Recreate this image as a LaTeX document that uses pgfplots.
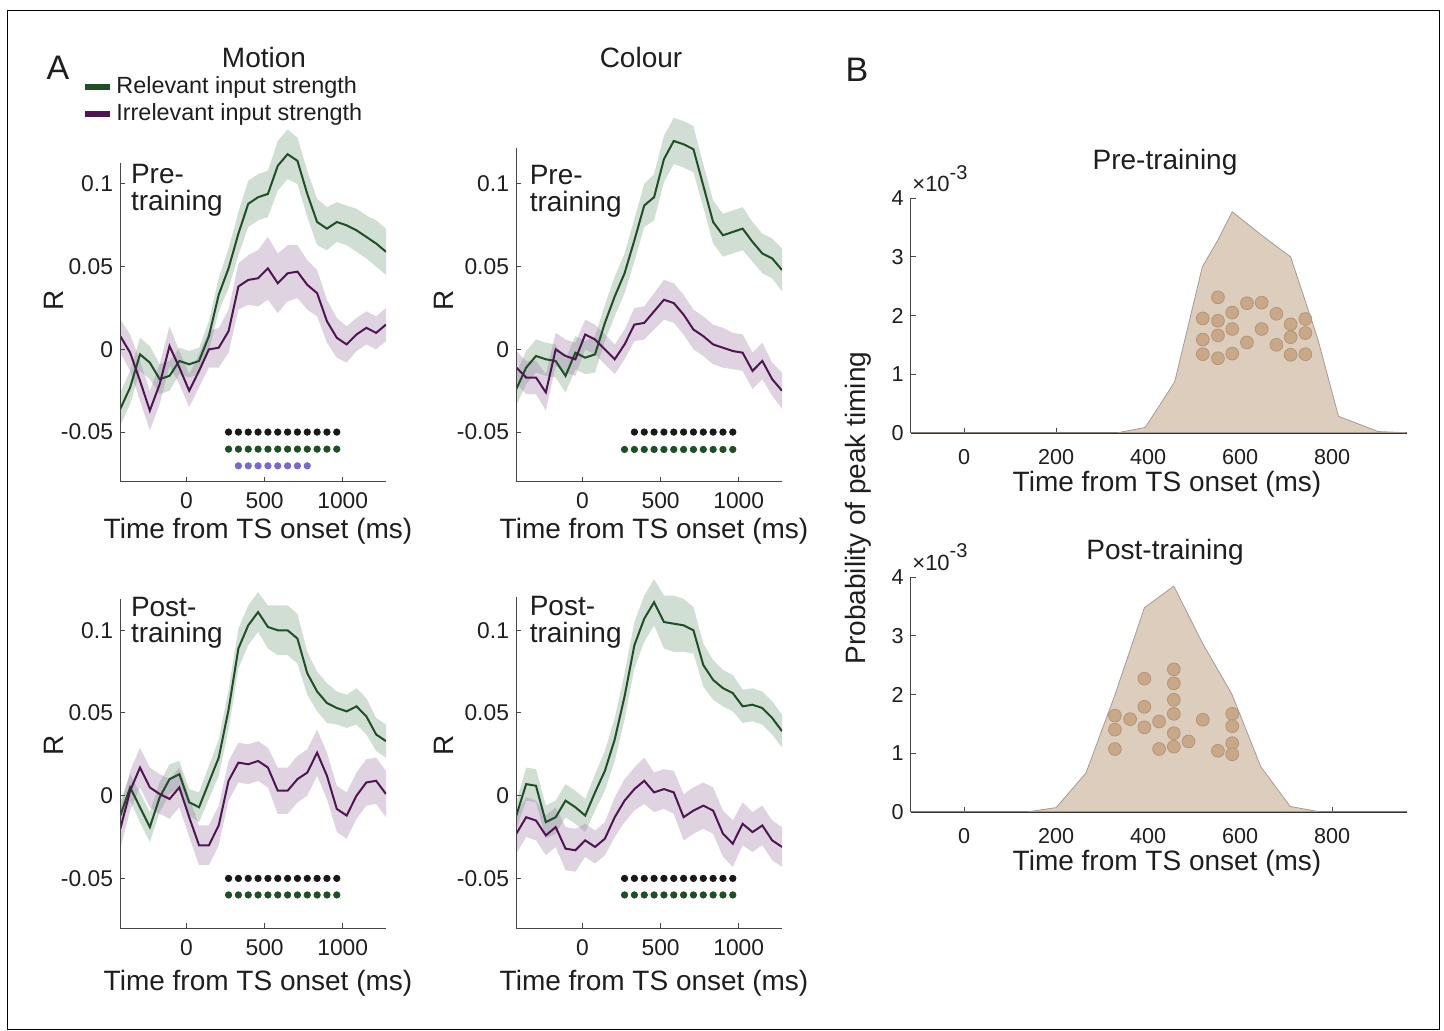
\documentclass[border=0pt]{standalone}
\usepackage{fontspec}
\setmainfont{Liberation Sans}
\usepackage{pgfplots}
\usepackage{pgfplotstable}
\pgfplotsset{compat=1.18}

\definecolor{gline}{RGB}{32,78,38}
\definecolor{pline}{RGB}{78,22,80}
\definecolor{gbase}{RGB}{120,160,130}
\definecolor{pbase}{RGB}{150,110,160}
\definecolor{dblack}{RGB}{25,25,25}
\definecolor{dpurp}{RGB}{122,106,200}
\definecolor{axgray}{RGB}{70,70,70}
\definecolor{txt}{RGB}{30,30,30}
\definecolor{densfill}{RGB}{221,205,189}
\definecolor{densedge}{RGB}{165,155,148}
\definecolor{dotfill}{RGB}{200,168,134}
\definecolor{dotedge}{RGB}{178,150,124}

% t = time (ms), g/ge = relevant mean/sem, p/pe = irrelevant mean/sem
\pgfplotstableread{
t g ge p pe
-424 -0.036 0.010 0.008 0.010
-361 -0.023 0.010 -0.002 0.011
-298 -0.003 0.010 -0.019 0.012
-235 -0.008 0.010 -0.037 0.012
-172 -0.018 0.009 -0.021 0.012
-109 -0.016 0.009 0.002 0.012
-46 -0.007 0.008 -0.011 0.010
17 -0.009 0.008 -0.025 0.010
80 -0.007 0.008 -0.013 0.010
143 0.008 0.009 0.000 0.011
206 0.033 0.010 0.001 0.012
269 0.049 0.012 0.011 0.013
332 0.070 0.013 0.038 0.014
395 0.088 0.014 0.042 0.015
458 0.092 0.014 0.043 0.017
521 0.094 0.014 0.049 0.019
584 0.111 0.015 0.040 0.018
647 0.118 0.015 0.046 0.017
710 0.114 0.014 0.047 0.016
773 0.094 0.014 0.039 0.015
836 0.077 0.014 0.034 0.014
899 0.073 0.013 0.017 0.013
962 0.077 0.012 0.007 0.012
1025 0.075 0.012 0.003 0.011
1088 0.072 0.013 0.009 0.010
1151 0.068 0.013 0.013 0.010
1214 0.064 0.014 0.010 0.010
1277 0.059 0.014 0.015 0.010
}\motionpre

\pgfplotstableread{
t g ge p pe
-424 -0.024 0.010 -0.011 0.010
-361 -0.011 0.010 -0.017 0.010
-298 -0.004 0.010 -0.017 0.010
-235 -0.006 0.010 -0.026 0.011
-172 -0.007 0.010 0.000 0.010
-109 -0.016 0.010 -0.004 0.010
-46 -0.002 0.010 -0.006 0.010
17 -0.005 0.010 0.009 0.009
80 -0.003 0.011 0.006 0.009
143 0.016 0.011 0.000 0.009
206 0.032 0.012 -0.006 0.009
269 0.046 0.012 0.003 0.009
332 0.066 0.013 0.015 0.010
395 0.087 0.013 0.016 0.010
458 0.092 0.014 0.023 0.011
521 0.115 0.014 0.030 0.012
584 0.126 0.014 0.028 0.012
647 0.124 0.014 0.021 0.012
710 0.121 0.014 0.012 0.012
773 0.099 0.013 0.008 0.012
836 0.077 0.013 0.003 0.012
899 0.069 0.013 0.001 0.012
962 0.071 0.013 -0.001 0.011
1025 0.073 0.013 -0.002 0.011
1088 0.065 0.012 -0.013 0.011
1151 0.058 0.012 -0.007 0.011
1214 0.055 0.012 -0.018 0.010
1277 0.048 0.013 -0.025 0.011
}\colourpre

\pgfplotstableread{
t g ge p pe
-424 -0.012 0.008 -0.020 0.012
-361 0.005 0.008 0.003 0.012
-298 -0.007 0.009 0.017 0.012
-235 -0.019 0.009 0.005 0.012
-172 -0.001 0.009 0.001 0.012
-109 0.010 0.009 -0.002 0.012
-46 0.013 0.008 0.005 0.012
17 -0.004 0.008 -0.013 0.012
80 -0.007 0.009 -0.030 0.012
143 0.008 0.010 -0.030 0.012
206 0.023 0.011 -0.018 0.012
269 0.052 0.012 0.009 0.012
332 0.089 0.012 0.020 0.012
395 0.103 0.012 0.019 0.012
458 0.111 0.012 0.021 0.012
521 0.102 0.013 0.017 0.012
584 0.100 0.015 0.003 0.014
647 0.100 0.015 0.003 0.014
710 0.095 0.015 0.010 0.014
773 0.074 0.013 0.014 0.014
836 0.063 0.012 0.026 0.014
899 0.056 0.012 0.012 0.014
962 0.053 0.010 -0.008 0.014
1025 0.051 0.010 -0.012 0.014
1088 0.054 0.011 0.000 0.014
1151 0.048 0.011 0.008 0.014
1214 0.037 0.010 0.009 0.014
1277 0.033 0.010 0.001 0.014
}\motionpost

\pgfplotstableread{
t g ge p pe
-424 -0.012 0.008 -0.023 0.012
-361 0.007 0.010 -0.013 0.012
-298 0.006 0.010 -0.015 0.012
-235 -0.016 0.010 -0.024 0.012
-172 -0.013 0.010 -0.019 0.012
-109 -0.003 0.010 -0.032 0.013
-46 -0.007 0.010 -0.033 0.013
17 -0.012 0.010 -0.027 0.010
80 0.002 0.011 -0.031 0.010
143 0.015 0.012 -0.026 0.010
206 0.034 0.013 -0.013 0.012
269 0.060 0.014 -0.003 0.013
332 0.091 0.014 0.004 0.013
395 0.107 0.014 0.009 0.014
458 0.117 0.014 0.002 0.012
521 0.105 0.016 0.004 0.012
584 0.104 0.017 0.002 0.013
647 0.103 0.016 -0.013 0.014
710 0.100 0.014 -0.009 0.014
773 0.079 0.013 -0.006 0.014
836 0.070 0.012 -0.009 0.014
899 0.065 0.011 -0.023 0.014
962 0.062 0.011 -0.029 0.014
1025 0.054 0.010 -0.017 0.013
1088 0.055 0.010 -0.022 0.012
1151 0.053 0.010 -0.018 0.012
1214 0.047 0.010 -0.027 0.012
1277 0.039 0.010 -0.031 0.012
}\colourpost

\pgfplotsset{
  leftgeom/.style={
    scale only axis, width=133pt, height=181.95pt, anchor=south west,
    xmin=-426, xmax=1277, ymin=-0.08, ymax=0.14,
  },
  bandaxis/.style={leftgeom, hide axis, stack plots=y},
  leftpanel/.style={
    leftgeom,
    axis x line*=bottom, axis y line*=left,
    x axis line style={draw=axgray, line width=0.5pt},
    y axis line style={draw=none},
    tick align=inside, major tick length=2.5pt,
    tick style={draw=axgray, line width=0.5pt},
    xtick={0,500,1000}, ytick={-0.05,0,0.05,0.1},
    yticklabels={-0.05,0,0.05,0.1},
    ticklabel style={font=\fontsize{11.4}{13}\selectfont, text=txt},
    xticklabel style={yshift=-2pt},
    /pgf/number format/assume math mode=true,
    /pgf/number format/1000 sep={},
  },
  rightpanel/.style={
    scale only axis, width=248.15pt, height=117.2pt, anchor=south west,
    xmin=-116, xmax=963, ymin=0, ymax=4,
    axis x line*=bottom, axis y line*=left,
    x axis line style={draw=black!80, line width=1.1pt},
    y axis line style={draw=axgray, line width=0.5pt},
    tick align=inside, major tick length=2.5pt,
    tick style={draw=axgray, line width=0.5pt},
    xtick={0,200,400,600,800}, ytick={0,1,2,3,4},
    ticklabel style={font=\fontsize{10.8}{12}\selectfont, text=txt},
    xticklabel style={yshift=-5pt},
    /pgf/number format/assume math mode=true,
  },
}

% shaded band mean +- sem, built as two stacked plots
% #1 position, #2 table, #3 mean column, #4 sem column, #5 colour, #6 opacity
\newcommand{\band}[6]{%
  \begin{axis}[bandaxis, at={#1}]
    \addplot[draw=none] table[x=t, y expr=\thisrow{#3}-\thisrow{#4}] {#2};
    \addplot[fill=#5, fill opacity=#6, draw=none] table[x=t, y expr=2*\thisrow{#4}] {#2} \closedcycle;
  \end{axis}}

\newcommand{\means}[1]{%
  \addplot[gline, line width=1pt] table[x=t, y=g] {#1};
  \addplot[pline, line width=1pt] table[x=t, y=p] {#1};
}

\begin{document}
\begin{tikzpicture}
\useasboundingbox (0,0) rectangle (722pt,-515pt);
\draw[black, line width=0.5pt] (3.5pt,-5pt) rectangle (719.5pt,-514.6pt);

% ---- A: Motion, pre-training
\band{(60pt,-240.85pt)}{\motionpre}{g}{ge}{gbase}{0.35}
\band{(60pt,-240.85pt)}{\motionpre}{p}{pe}{pbase}{0.30}
\begin{axis}[leftpanel, at={(60pt,-240.85pt)}]
  \means{\motionpre}
  \addplot[only marks, mark=*, mark size=1.6pt, dblack] coordinates {(269,-0.05)(332,-0.05)(395,-0.05)(458,-0.05)(521,-0.05)(584,-0.05)(647,-0.05)(710,-0.05)(773,-0.05)(836,-0.05)(899,-0.05)(962,-0.05)};
  \addplot[only marks, mark=*, mark size=1.6pt, gline] coordinates {(269,-0.0603)(332,-0.0603)(395,-0.0603)(458,-0.0603)(521,-0.0603)(584,-0.0603)(647,-0.0603)(710,-0.0603)(773,-0.0603)(836,-0.0603)(899,-0.0603)(962,-0.0603)};
  \addplot[only marks, mark=*, mark size=1.6pt, dpurp] coordinates {(332,-0.0704)(395,-0.0704)(458,-0.0704)(521,-0.0704)(584,-0.0704)(647,-0.0704)(710,-0.0704)(773,-0.0704)};
\end{axis}
\draw[axgray, line width=0.5pt] (60pt,-240.85pt) -- ++(0,159.6pt);

% ---- A: Colour, pre-training
\band{(258pt,-240.85pt)}{\colourpre}{g}{ge}{gbase}{0.35}
\band{(258pt,-240.85pt)}{\colourpre}{p}{pe}{pbase}{0.30}
\begin{axis}[leftpanel, at={(258pt,-240.85pt)}]
  \means{\colourpre}
  \addplot[only marks, mark=*, mark size=1.6pt, dblack] coordinates {(332,-0.05)(395,-0.05)(458,-0.05)(521,-0.05)(584,-0.05)(647,-0.05)(710,-0.05)(773,-0.05)(836,-0.05)(899,-0.05)(962,-0.05)};
  \addplot[only marks, mark=*, mark size=1.6pt, gline] coordinates {(269,-0.0605)(332,-0.0605)(395,-0.0605)(458,-0.0605)(521,-0.0605)(584,-0.0605)(647,-0.0605)(710,-0.0605)(773,-0.0605)(836,-0.0605)(899,-0.0605)(962,-0.0605)};
\end{axis}
\draw[axgray, line width=0.5pt] (258pt,-240.85pt) -- ++(0,166.7pt);

% ---- A: Motion, post-training
\band{(60pt,-464pt)}{\motionpost}{g}{ge}{gbase}{0.35}
\band{(60pt,-464pt)}{\motionpost}{p}{pe}{pbase}{0.30}
\begin{axis}[leftpanel, at={(60pt,-464pt)}]
  \means{\motionpost}
  \addplot[only marks, mark=*, mark size=1.6pt, dblack] coordinates {(269,-0.05)(332,-0.05)(395,-0.05)(458,-0.05)(521,-0.05)(584,-0.05)(647,-0.05)(710,-0.05)(773,-0.05)(836,-0.05)(899,-0.05)(962,-0.05)};
  \addplot[only marks, mark=*, mark size=1.6pt, gline] coordinates {(269,-0.06)(332,-0.06)(395,-0.06)(458,-0.06)(521,-0.06)(584,-0.06)(647,-0.06)(710,-0.06)(773,-0.06)(836,-0.06)(899,-0.06)(962,-0.06)};
\end{axis}
\draw[axgray, line width=0.5pt] (60pt,-464pt) -- ++(0,164.3pt);

% ---- A: Colour, post-training
\band{(258pt,-464pt)}{\colourpost}{g}{ge}{gbase}{0.35}
\band{(258pt,-464pt)}{\colourpost}{p}{pe}{pbase}{0.30}
\begin{axis}[leftpanel, at={(258pt,-464pt)}]
  \means{\colourpost}
  \addplot[only marks, mark=*, mark size=1.6pt, dblack] coordinates {(269,-0.05)(332,-0.05)(395,-0.05)(458,-0.05)(521,-0.05)(584,-0.05)(647,-0.05)(710,-0.05)(773,-0.05)(836,-0.05)(899,-0.05)(962,-0.05)};
  \addplot[only marks, mark=*, mark size=1.6pt, gline] coordinates {(269,-0.06)(332,-0.06)(395,-0.06)(458,-0.06)(521,-0.06)(584,-0.06)(647,-0.06)(710,-0.06)(773,-0.06)(836,-0.06)(899,-0.06)(962,-0.06)};
\end{axis}
\draw[axgray, line width=0.5pt] (258pt,-464pt) -- ++(0,165.4pt);

% ---- B: pre-training peak timing
\begin{axis}[rightpanel, at={(455.35pt,-216.35pt)}]
  \addplot[fill=densfill, draw=densedge, line width=0.4pt] coordinates {(-116,0)(334,0)(394,0.09)(458,0.87)(518,2.83)(552,3.29)(583,3.77)(647,3.37)(710,3.0)(769,1.6)(814,0.28)(900,0.02)(963,0)} \closedcycle;
  \addplot[only marks, mark=*, mark size=3.2pt, draw=dotedge, fill=dotfill] coordinates {
    (519,1.95)(519,1.59)(519,1.34)
    (552,2.31)(552,1.91)(552,1.66)(552,1.27)
    (583,2.05)(583,1.77)(583,1.35)
    (615,2.21)(615,1.54)
    (647,2.22)(647,1.77)
    (679,2.03)(679,1.50)
    (710,1.85)(710,1.63)(710,1.33)
    (742,1.94)(742,1.70)(742,1.34)};
\end{axis}

% ---- B: post-training peak timing
\begin{axis}[rightpanel, at={(455.35pt,-405.85pt)}]
  \addplot[fill=densfill, draw=densedge, line width=0.4pt] coordinates {(-116,0)(140,0)(200,0.07)(265,0.66)(327,1.97)(392,3.48)(456,3.85)(518,2.88)(582,2.01)(645,0.77)(709,0.09)(772,0)(963,0)} \closedcycle;
  \addplot[only marks, mark=*, mark size=3.2pt, draw=dotedge, fill=dotfill] coordinates {
    (328,1.64)(328,1.40)(328,1.07)
    (361,1.58)
    (392,2.27)(392,1.79)(392,1.44)
    (424,1.54)(424,1.07)
    (456,2.43)(456,2.19)(456,1.91)(456,1.67)(456,1.34)(456,1.11)
    (488,1.20)
    (519,1.57)
    (552,1.04)
    (583,1.67)(583,1.46)(583,1.17)(583,0.98)};
\end{axis}

% ---- text
\begin{scope}[every node/.style={text=txt, inner sep=0pt}]
  \node[font=\fontsize{17}{20}\selectfont] at (29pt,-34pt) {A};
  \node[font=\fontsize{17}{20}\selectfont] at (428.5pt,-35pt) {B};
  \node[font=\fontsize{14}{16}\selectfont] at (132pt,-28.5pt) {Motion};
  \node[font=\fontsize{14}{16}\selectfont] at (320.5pt,-28.5pt) {Colour};
  \draw[gline, line width=2.6pt] (42.5pt,-43.5pt) -- (55pt,-43.5pt);
  \draw[pline, line width=2.6pt] (42.5pt,-57pt) -- (55pt,-57pt);
  \node[anchor=west, font=\fontsize{11.7}{13}\selectfont] at (58pt,-43.5pt) {Relevant input strength};
  \node[anchor=west, font=\fontsize{11.7}{13}\selectfont] at (58pt,-57pt) {Irrelevant input strength};

  \begin{scope}[every node/.append style={anchor=base west, font=\fontsize{14}{16}\selectfont}]
    \node at (65.3pt,-91.7pt) {Pre-};
    \node at (65.3pt,-105.3pt) {training};
    \node at (264.7pt,-92pt) {Pre-};
    \node at (264.7pt,-105.8pt) {training};
    \node at (65.3pt,-308pt) {Post-};
    \node at (65.3pt,-321.3pt) {training};
    \node at (264.7pt,-307.5pt) {Post-};
    \node at (264.7pt,-321.3pt) {training};
  \end{scope}

  \begin{scope}[every node/.append style={rotate=90, font=\fontsize{14}{16}\selectfont}]
    \node at (27pt,-150pt) {R};
    \node at (222pt,-150pt) {R};
    \node at (27pt,-372.5pt) {R};
    \node at (222pt,-372.5pt) {R};
    \node at (429pt,-254pt) {Probability of peak timing};
  \end{scope}

  \begin{scope}[every node/.append style={font=\fontsize{14}{16}\selectfont}]
    \node at (129pt,-265.5pt) {Time from TS onset (ms)};
    \node at (327pt,-265.5pt) {Time from TS onset (ms)};
    \node at (129pt,-491.5pt) {Time from TS onset (ms)};
    \node at (327pt,-491.5pt) {Time from TS onset (ms)};
    \node at (583.5pt,-242pt) {Time from TS onset (ms)};
    \node at (583.5pt,-431.5pt) {Time from TS onset (ms)};
    \node at (582.5pt,-81pt) {Pre-training};
    \node at (582.5pt,-276pt) {Post-training};
  \end{scope}

  \node[anchor=base west, font=\fontsize{11}{13}\selectfont] at (456pt,-95.8pt) {×10\raisebox{0.55em}{\fontsize{10}{12}\selectfont -3}};
  \node[anchor=base west, font=\fontsize{11}{13}\selectfont] at (456pt,-285pt) {×10\raisebox{0.55em}{\fontsize{10}{12}\selectfont -3}};
\end{scope}
\end{tikzpicture}
\end{document}
